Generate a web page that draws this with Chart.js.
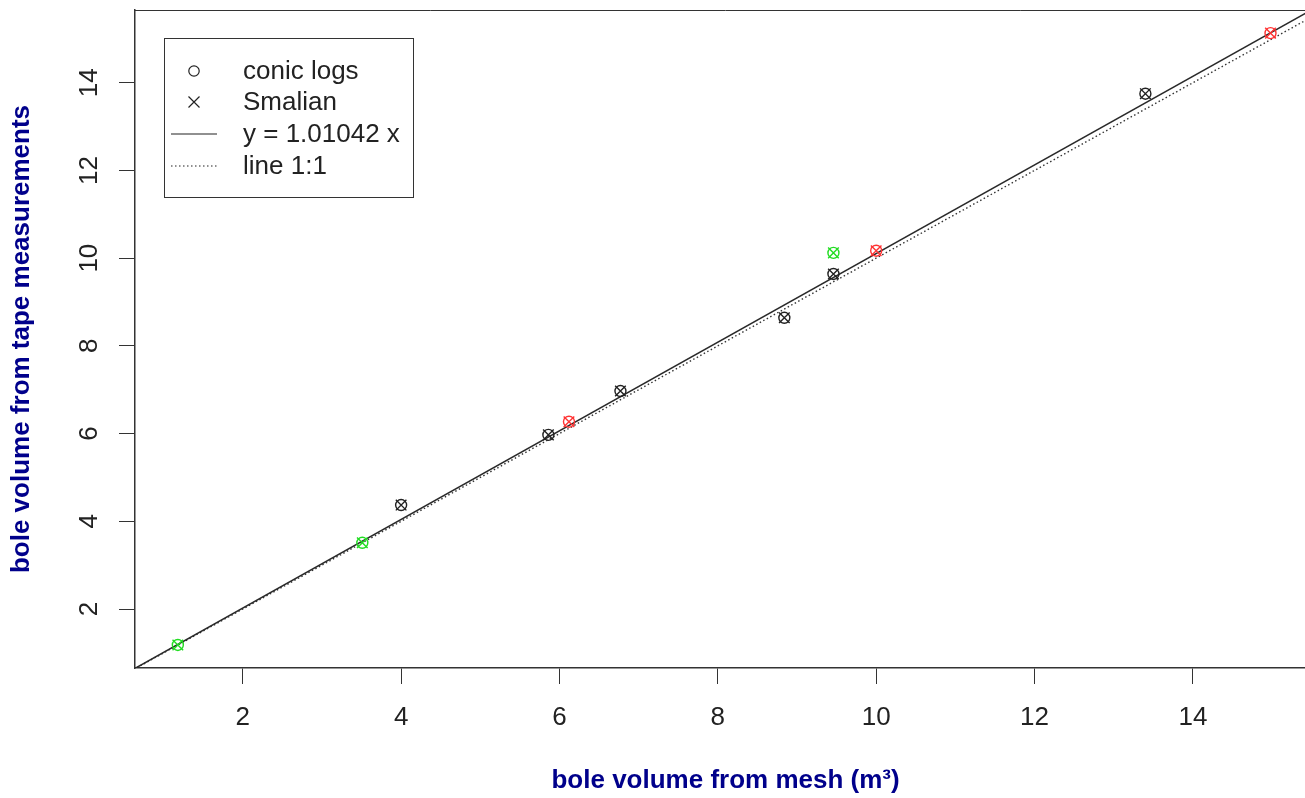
<!DOCTYPE html>
<html>
<head>
<meta charset="utf-8">
<script src="https://cdn.jsdelivr.net/npm/chart.js@4.4.1/dist/chart.umd.min.js"></script>
<style>
  html, body { margin: 0; padding: 0; background: #fff; overflow: hidden; }
  #wrap { width: 1325px; height: 798px; }
</style>
</head>
<body>
<div id="wrap"><canvas id="c" width="1325" height="798"></canvas></div>
<script>
// values
const meshVolume = [1.18, 3.51, 4.00, 5.86, 6.12, 6.77, 8.84, 9.46, 9.46, 10.00, 13.40, 14.98];
const conicVolume = [1.18, 3.51, 4.37, 5.97, 6.27, 6.97, 8.64, 10.12, 9.64, 10.17, 13.75, 15.13];
const smalianVolume = [1.18, 3.51, 4.37, 5.97, 6.27, 6.97, 8.64, 10.12, 9.64, 10.17, 13.75, 15.13];
const pointColors = ['#22dd22', '#22dd22', '#222222', '#222222', '#ff3333', '#222222',
                     '#222222', '#22dd22', '#222222', '#ff3333', '#222222', '#ff3333'];

const lineX = [0, 16];
const fitY = [0, 16.167];   // y = 1.01042 x
const oneToOneY = [0, 16];

const xTicks = [2, 4, 6, 8, 10, 12, 14];
const yTicks = [2, 4, 6, 8, 10, 12, 14];
const legendLabels = ['conic logs', 'Smalian', 'y = 1.01042 x', 'line 1:1'];

const FONT = '"Liberation Sans", Arial, Helvetica, sans-serif';
const AXIS = '#333';
const TITLE_COLOR = '#00008b';

const toPoints = (xs, ys) => xs.map((x, i) => ({ x: x, y: ys[i] }));

// top edge of the box, rotated y tick labels and the legend
const rPlotExtras = {
    id: 'rPlotExtras',
    afterDraw(chart) {
        const ctx = chart.ctx;
        const a = chart.chartArea;
        const y = chart.scales.y;
        ctx.save();
        ctx.strokeStyle = AXIS;
        ctx.lineWidth = 1;
        ctx.beginPath();
        ctx.moveTo(a.left, a.top + 0.5);
        ctx.lineTo(a.right, a.top + 0.5);
        ctx.moveTo(a.right - 0.5, a.top);
        ctx.lineTo(a.right - 0.5, a.bottom);
        ctx.stroke();

        ctx.fillStyle = '#222';
        ctx.font = '26px ' + FONT;
        ctx.textAlign = 'center';
        ctx.textBaseline = 'middle';
        yTicks.forEach(v => {
            ctx.save();
            ctx.translate(a.left - 45, y.getPixelForValue(v));
            ctx.rotate(-Math.PI / 2);
            ctx.fillText(String(v), 0, 0);
            ctx.restore();
        });

        // legend box
        const bx = a.left + 29, by = a.top + 28, bw = 249, bh = 159;
        ctx.strokeStyle = AXIS;
        ctx.strokeRect(bx + 0.5, by + 0.5, bw, bh);
        const rowY = [by + 33, by + 64, by + 96, by + 128];
        const symX = bx + 30;
        ctx.lineWidth = 1.2;
        ctx.strokeStyle = '#222';
        ctx.beginPath();
        ctx.arc(symX, rowY[0], 5.2, 0, Math.PI * 2);
        ctx.stroke();
        ctx.beginPath();
        ctx.moveTo(symX - 5.5, rowY[1] - 5.5); ctx.lineTo(symX + 5.5, rowY[1] + 5.5);
        ctx.moveTo(symX + 5.5, rowY[1] - 5.5); ctx.lineTo(symX - 5.5, rowY[1] + 5.5);
        ctx.stroke();
        ctx.beginPath();
        ctx.moveTo(symX - 23, rowY[2]); ctx.lineTo(symX + 23, rowY[2]);
        ctx.stroke();
        ctx.setLineDash([1.5, 2.5]);
        ctx.beginPath();
        ctx.moveTo(symX - 23, rowY[3]); ctx.lineTo(symX + 23, rowY[3]);
        ctx.stroke();
        ctx.setLineDash([]);

        ctx.fillStyle = '#222';
        ctx.textAlign = 'left';
        legendLabels.forEach((t, i) => ctx.fillText(t, bx + 79, rowY[i] + 1));
        ctx.restore();
    }
};

new Chart(document.getElementById('c'), {
    type: 'scatter',
    data: {
        datasets: [
            {
                label: legendLabels[0],
                data: toPoints(meshVolume, conicVolume),
                pointStyle: 'circle',
                pointRadius: 5.5,
                pointBorderWidth: 1.4,
                pointBorderColor: pointColors,
                pointBackgroundColor: 'rgba(0,0,0,0)'
            },
            {
                label: legendLabels[1],
                data: toPoints(meshVolume, smalianVolume),
                pointStyle: 'crossRot',
                pointRadius: 7.5,
                pointBorderWidth: 1.4,
                pointBorderColor: pointColors,
                pointBackgroundColor: 'rgba(0,0,0,0)'
            },
            {
                type: 'line',
                label: legendLabels[2],
                data: toPoints(lineX, fitY),
                borderColor: '#2a2a2a',
                borderWidth: 1.5,
                pointRadius: 0,
                fill: false
            },
            {
                type: 'line',
                label: legendLabels[3],
                data: toPoints(lineX, oneToOneY),
                borderColor: '#333',
                borderWidth: 1.4,
                borderDash: [1.5, 2.5],
                pointRadius: 0,
                fill: false
            }
        ]
    },
    options: {
        responsive: false,
        animation: false,
        layout: { padding: { top: 10, right: 6, left: 0, bottom: 0 } },
        plugins: { legend: { display: false }, tooltip: { enabled: false } },
        scales: {
            x: {
                type: 'linear',
                min: 0.639,
                max: 15.556,
                afterBuildTicks: s => { s.ticks = xTicks.map(v => ({ value: v })); },
                afterFit: s => { s.height = 130; },
                grid: { drawOnChartArea: false, drawTicks: true, tickLength: 16, color: AXIS, lineWidth: 1 },
                border: { display: true, color: AXIS, width: 1.5 },
                ticks: { color: '#222', font: { family: FONT, size: 26 }, padding: 18, maxRotation: 0 },
                title: {
                    display: true,
                    text: 'bole volume from mesh (m³)',
                    color: TITLE_COLOR,
                    font: { family: FONT, size: 26, weight: 'bold' },
                    padding: { top: 0, bottom: 2 }
                }
            },
            y: {
                type: 'linear',
                min: 0.655,
                max: 15.658,
                afterBuildTicks: s => { s.ticks = yTicks.map(v => ({ value: v })); },
                afterFit: s => { s.width = 135; },
                grid: { drawOnChartArea: false, drawTicks: true, tickLength: 16, color: AXIS, lineWidth: 1 },
                border: { display: true, color: AXIS, width: 1.5 },
                ticks: { display: false },
                title: {
                    display: true,
                    text: 'bole volume from tape measurements',
                    color: TITLE_COLOR,
                    font: { family: FONT, size: 26, weight: 'bold' },
                    padding: { top: 6, bottom: 0 }
                }
            }
        }
    },
    plugins: [rPlotExtras]
});
</script>
</body>
</html>
